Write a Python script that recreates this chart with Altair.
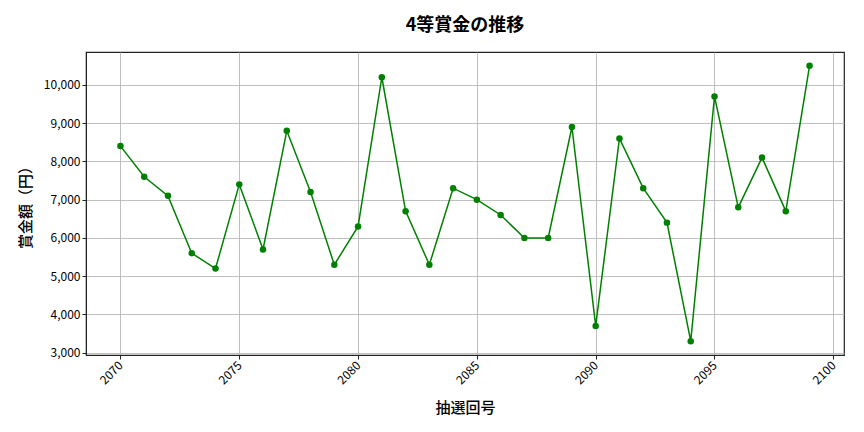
import altair as alt
import pandas as pd

draws = list(range(2070, 2100))
prizes = [8400, 7600, 7100, 5600, 5200, 7400, 5700, 8800, 7200, 5300,
          6300, 10200, 6700, 5300, 7300, 7000, 6600, 6000, 6000, 8900,
          3700, 8600, 7300, 6400, 3300, 9700, 6800, 8100, 6700, 10500]
x_ticks = [2070, 2075, 2080, 2085, 2090, 2095, 2100]
y_ticks = [3000, 4000, 5000, 6000, 7000, 8000, 9000, 10000]

df = pd.DataFrame({"draw": draws, "prize": prizes})

FONT = "Noto Sans CJK JP"

x = alt.X("draw:Q", title="抽選回号",
          scale=alt.Scale(domain=[2068.55, 2100.45], nice=False, zero=False),
          axis=alt.Axis(values=x_ticks, format="d", labelAngle=-45,
                        labelAlign="right", labelBaseline="middle",
                        labelPadding=4, titlePadding=14))
y = alt.Y("prize:Q", title="賞金額（円）",
          scale=alt.Scale(domain=[2940, 10860], nice=False, zero=False),
          axis=alt.Axis(values=y_ticks, format=",d", titlePadding=10))

line = alt.Chart(df).mark_line(color="green", strokeWidth=1.5).encode(x=x, y=y)
pts = alt.Chart(df).mark_circle(color="green", size=42, opacity=1).encode(x=x, y=y)

chart = (line + pts).properties(
    width=758, height=303,
    title=alt.TitleParams("4等賞金の推移", fontSize=18, font=FONT,
                          fontWeight="bold", offset=17, anchor="middle"),
    autosize=alt.AutoSizeParams(type="none"),
    padding={"left": 78, "top": 44, "right": 12, "bottom": 69},
).configure_view(stroke="#222222", strokeWidth=1.2).configure_axis(
    labelFont=FONT, titleFont=FONT, labelFontSize=12, titleFontSize=15,
    titleFontWeight=500, labelColor="#000000", titleColor="#000000",
    grid=True, gridColor="#b0b0b0", gridWidth=0.8,
    domainColor="#222222", tickColor="#222222", tickSize=4,
)

chart.save("out.html", embed_options={"renderer": "svg", "actions": False})
